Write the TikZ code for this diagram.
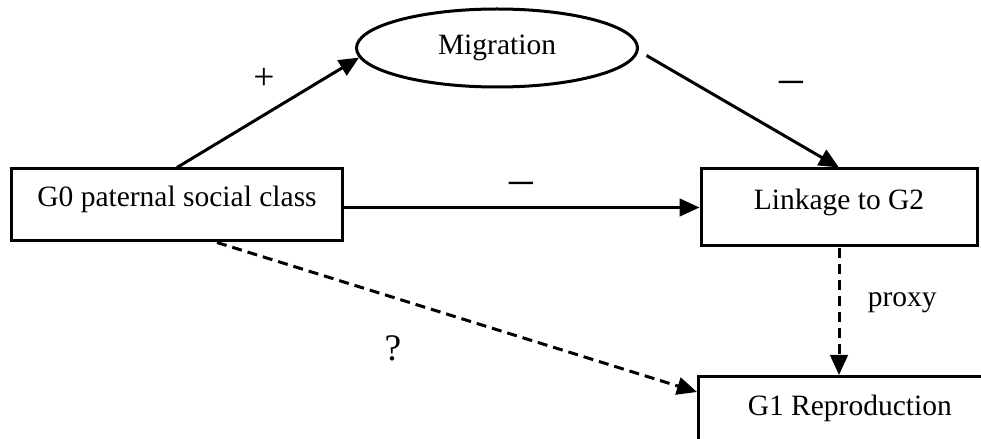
\documentclass[tikz,border=0pt]{standalone}
\usepackage{fontspec}
\setmainfont{Liberation Serif}
\usetikzlibrary{positioning,shapes.geometric,arrows.meta}

\tikzset{
  box/.style={draw, rectangle, line width=1.2pt, inner sep=0pt, text height=6pt, text depth=4.4pt},
  oval/.style={draw, ellipse, line width=1.2pt, inner sep=0pt},
  arr/.style={-{Triangle[length=8pt,width=7pt]}, line width=1.2pt},
  dasharr/.style={arr, dash pattern=on 4pt off 2.4pt},
  signlbl/.style={font=\fontsize{15}{18}\selectfont},
  dashlbl/.style={font=\fontsize{19}{22}\selectfont},
}

\begin{document}
\begin{tikzpicture}[x=0.4pt,y=-0.4pt,font=\fontsize{11.8}{14}\selectfont]
\useasboundingbox (0,0) rectangle (981,439);
\clip (0,0) rectangle (981,439);
\node[box, minimum width=132pt, minimum height=28.8pt] (g0) at (177,205) {G0 paternal social class};
\node[oval, minimum width=112.4pt, minimum height=31.2pt] (mig) at (497,48) {Migration};
\node[box, minimum width=110.4pt, minimum height=30.8pt] (link) at (839,207.5) {Linkage to G2};
\node[box, anchor=north west, minimum width=121pt, inner ysep=4pt, text height=11.6pt, text depth=20pt] (g1) at (697,375) {G1 Reproduction};
% arrows
\draw[arr] (g0.north) -- (mig.184);
\draw[arr] ([shift={(3pt,-3pt)}]mig.east) -- (link.north);
\draw[arr] (g0.east |- link.west) -- (link.west);
\draw[dasharr] (link.south) -- (link.south |- g1.north);
\draw[dasharr] ([xshift=16pt]g0.south) -- ([yshift=-6.8pt]g1.north west);
% signs
\node[signlbl] (plus) at (264,79) {+};
\node[dashlbl] (minus1) at (791,87) {–};
\path (g0.east |- link.west) -- (link.west) node[midway, above, yshift=1.8pt, dashlbl] (minus2) {–};
\node[signlbl] (q) at (393,348) {?};
\path (link.south) -- (link.south |- g1.north) node[pos=0.43, right=8pt] (prx) {proxy};
\end{tikzpicture}
\end{document}
